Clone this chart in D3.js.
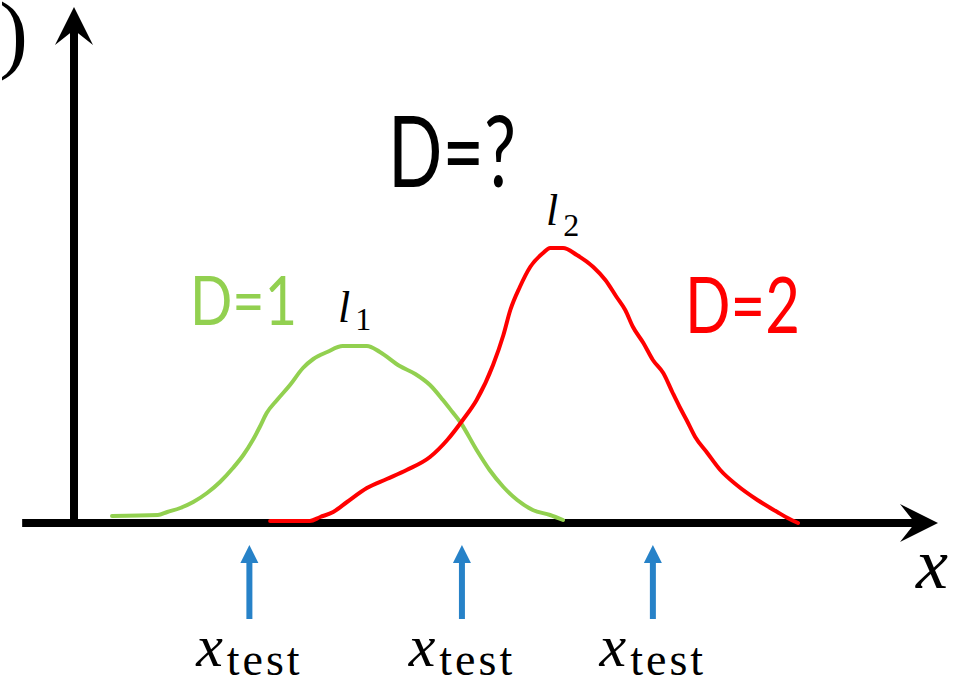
<!DOCTYPE html>
<html>
<head>
<meta charset="utf-8">
<script src="https://cdn.jsdelivr.net/npm/d3@7"></script>
<style>
  html, body { margin: 0; padding: 0; background: #fff; overflow: hidden; }
  svg { display: block; }
  .math { font-family: "Liberation Serif", "DejaVu Serif", "Times New Roman", serif; }
  .hand { font-family: "Lato", "DejaVu Sans", sans-serif; }
</style>
</head>
<body>
<svg id="chart" width="964" height="681"></svg>
<script>
// Model 1 (degree 1) likelihood curve: position along x, density
const lowDegreeX = [0.44, 0.97, 1.08, 1.23, 1.38, 1.54, 1.69, 1.84, 1.96, 2.07, 2.15, 2.23, 2.35, 2.50, 2.65, 2.77, 2.93, 3.11, 3.39, 3.54, 3.77, 3.95, 4.12, 4.27, 4.38, 4.47, 4.66, 4.81, 4.97, 5.13, 5.31, 5.51, 5.66];
const lowDegreeY = [0.014, 0.016, 0.022, 0.030, 0.042, 0.060, 0.082, 0.110, 0.136, 0.166, 0.192, 0.220, 0.246, 0.276, 0.310, 0.328, 0.342, 0.354, 0.354, 0.342, 0.314, 0.298, 0.276, 0.246, 0.222, 0.202, 0.146, 0.106, 0.072, 0.046, 0.026, 0.016, 0.006];

// Model 2 (degree 2) likelihood curve
const highDegreeX = [2.27, 2.73, 2.85, 3.00, 3.16, 3.39, 3.62, 3.85, 4.12, 4.32, 4.50, 4.66, 4.85, 4.97, 5.05, 5.16, 5.28, 5.43, 5.51, 5.66, 5.82, 6.01, 6.15, 6.28, 6.38, 6.47, 6.59, 6.70, 6.82, 6.93, 7.01, 7.09, 7.19, 7.33, 7.48, 7.67, 7.91, 8.14, 8.26, 8.38];
const highDegreeY = [0.004, 0.004, 0.012, 0.022, 0.042, 0.070, 0.088, 0.106, 0.132, 0.166, 0.206, 0.246, 0.316, 0.376, 0.426, 0.472, 0.512, 0.540, 0.550, 0.550, 0.536, 0.512, 0.486, 0.452, 0.426, 0.392, 0.360, 0.326, 0.300, 0.260, 0.232, 0.206, 0.172, 0.140, 0.106, 0.076, 0.046, 0.022, 0.010, 0.000];

// Test inputs marked under the x axis
const testPoints = [2.03, 4.49, 6.70];

// Text labels
const curveSubscripts = ["1", "2"];
const degreeLabels = ["D=1", "D=2", "D=?"];
const testLabelMain = "x";
const testLabelSub = "test";
const xAxisLabel = "x";
const yAxisLabel = "p(x)";

const svg = d3.select("#chart");

const x = d3.scaleLinear().domain([0, 10]).range([74, 938]);
const y = d3.scaleLinear().domain([0, 1]).range([523, 23]);

const GREEN = "#92d050";
const RED = "#ff0000";
const BLUE = "#2782c8";

// ---- axes with notched arrowheads ----
const axisW = 8;
const headLen = 38, headHalf = 19, notch = 23;
const x0 = x(0), y0 = y(0);
const xTip = x(10), yTip = y(1.032);

// horizontal axis
svg.append("line")
  .attr("x1", x(-0.6)).attr("x2", xTip - notch)
  .attr("y1", y0).attr("y2", y0)
  .attr("stroke", "#000").attr("stroke-width", axisW);
svg.append("path")
  .attr("d", `M${xTip},${y0} L${xTip - headLen},${y0 - headHalf} L${xTip - notch},${y0} L${xTip - headLen},${y0 + headHalf} Z`)
  .attr("fill", "#000");

// vertical axis
svg.append("line")
  .attr("x1", x0).attr("x2", x0)
  .attr("y1", y0 + axisW / 2).attr("y2", yTip + notch)
  .attr("stroke", "#000").attr("stroke-width", axisW);
svg.append("path")
  .attr("d", `M${x0},${yTip} L${x0 - headHalf},${yTip + headLen} L${x0},${yTip + notch} L${x0 + headHalf},${yTip + headLen} Z`)
  .attr("fill", "#000");

// y axis label, mostly beyond the left edge
svg.append("text")
  .attr("class", "math")
  .attr("x", 28).attr("y", 62)
  .attr("text-anchor", "end")
  .style("font-size", "86px")
  .text(yAxisLabel);

// x axis label
svg.append("text")
  .attr("class", "math")
  .attr("x", 916).attr("y", 588)
  .style("font-style", "italic")
  .style("font-size", "72px")
  .text(xAxisLabel);

// ---- likelihood curves ----
const line = d3.line()
  .x(d => x(d[0]))
  .y(d => y(d[1]))
  .curve(d3.curveMonotoneX);

const lowData = lowDegreeX.map((v, i) => [v, lowDegreeY[i]]);
const highData = highDegreeX.map((v, i) => [v, highDegreeY[i]]);

svg.append("path")
  .datum(lowData)
  .attr("d", line)
  .attr("fill", "none")
  .attr("stroke", GREEN)
  .attr("stroke-width", 4)
  .attr("stroke-linecap", "round")
  .attr("stroke-linejoin", "round");

svg.append("path")
  .datum(highData)
  .attr("d", line)
  .attr("fill", "none")
  .attr("stroke", RED)
  .attr("stroke-width", 4)
  .attr("stroke-linecap", "round")
  .attr("stroke-linejoin", "round");

// ---- curve names l_1, l_2 ----
const curveNamePos = [
  { x: 338, y: 322, subY: 330 },
  { x: 546, y: 225, subY: 236 }
];
curveNamePos.forEach((p, i) => {
  const t = svg.append("text")
    .attr("class", "math")
    .attr("x", p.x).attr("y", p.y)
    .attr("fill", "#000");
  t.append("tspan").style("font-style", "italic").style("font-size", "44px").text("l");
  t.append("tspan").style("font-size", "32px").attr("dy", p.subY - p.y).attr("dx", 5).text(curveSubscripts[i]);
});

// ---- handwritten degree labels, squeezed horizontally to their target width ----
const degreeStyle = [
  { x: 190, y: 325, size: 68, len: 107, color: GREEN },
  { x: 685, y: 333, size: 78, len: 115, color: RED },
  { x: 388, y: 187, size: 98, len: 128, color: "#000" }
];
degreeLabels.forEach((lab, i) => {
  const s = degreeStyle[i];
  const t = svg.append("text")
    .attr("class", "hand")
    .attr("x", 0).attr("y", 0)
    .style("font-weight", 400)
    .style("font-size", s.size + "px")
    .attr("fill", s.color)
    .text(lab);
  const natural = t.node().getComputedTextLength();
  t.attr("transform", `translate(${s.x},${s.y}) scale(${s.len / natural},1)`);
});

// ---- test point arrows and labels ----
const arrowTipY = 545, arrowHeadBase = 563, arrowTail = 619, arrowHalf = 9;
const tests = svg.selectAll("g.test")
  .data(testPoints)
  .join("g")
  .attr("class", "test")
  .attr("transform", d => `translate(${x(d)},0)`);

tests.append("line")
  .attr("x1", 0).attr("x2", 0)
  .attr("y1", arrowHeadBase - 2).attr("y2", arrowTail)
  .attr("stroke", BLUE).attr("stroke-width", 6);
tests.append("path")
  .attr("d", `M0,${arrowTipY} L${-arrowHalf},${arrowHeadBase} L${arrowHalf},${arrowHeadBase} Z`)
  .attr("fill", BLUE);

const tl = tests.append("text")
  .attr("class", "math")
  .attr("x", 0).attr("y", 666)
  .attr("text-anchor", "middle")
  .attr("fill", "#000");
tl.append("tspan").style("font-style", "italic").style("font-size", "60px").text(testLabelMain);
tl.append("tspan").style("font-size", "46px").attr("dy", 9).attr("dx", 4).style("letter-spacing", "3px").text(testLabelSub);
</script>
</body>
</html>
